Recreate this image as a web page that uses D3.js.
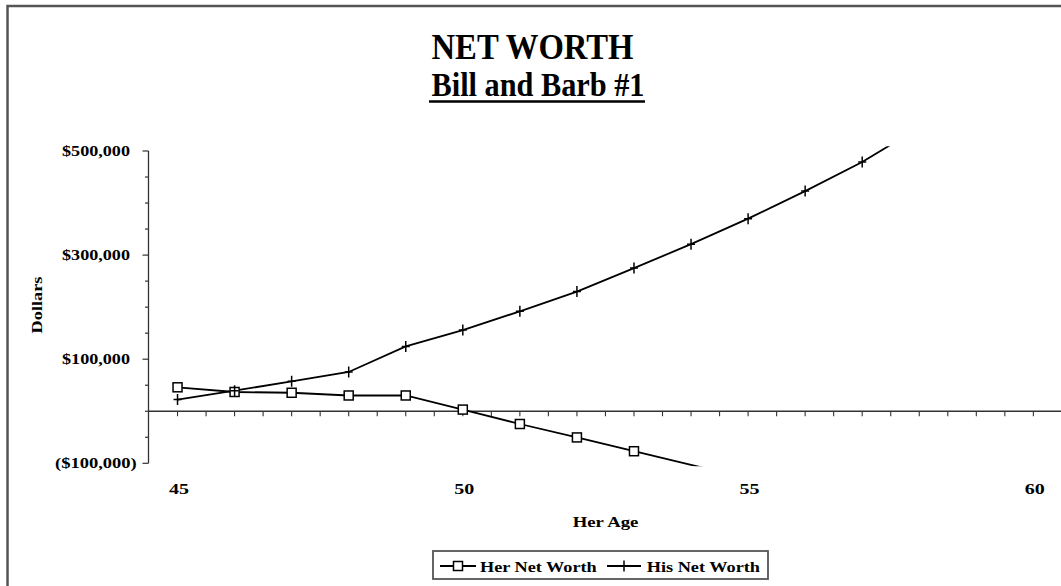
<!DOCTYPE html>
<html><head><meta charset="utf-8">
<script src="https://cdn.jsdelivr.net/npm/d3@7"></script>
<style>
html,body{margin:0;padding:0;background:#fff;}
svg text{font-family:"Liberation Serif","Times New Roman",serif;font-weight:bold;fill:#000;}
</style></head>
<body>
<script>
// ---- data ----
const ages = [45, 46, 47, 48, 49, 50, 51, 52, 53, 54, 55, 56, 57, 58];
const herNetWorth = [46000, 37000, 35500, 30300, 30300, 3200, -24500, -50300, -76800, -103000, -129000];
const hisNetWorth = [22400, 39600, 57500, 75500, 124500, 156000, 192000, 230000, 275000, 321000, 370000, 423000, 479000, 545000];
const yTickValues = [-100000, 100000, 300000, 500000];
const xTickValues = [45, 50, 55, 60];
const seriesNames = ["Her Net Worth", "His Net Worth"];
const titleText = "NET WORTH";
const subtitleText = "Bill and Barb #1";
const xAxisTitle = "Her Age";
const yAxisTitle = "Dollars";

const W = 1061, H = 586;
const svg = d3.select("body").append("svg").attr("width", W).attr("height", H);

// frame
svg.append("rect").attr("x", 7.5).attr("y", 6).attr("width", W + 20).attr("height", H + 20)
  .attr("fill", "none").attr("stroke", "#555").attr("stroke-width", 2.5);

const x = d3.scaleLinear().domain([44.5, 60.5]).range([149, 1061.9]);
const y = d3.scaleLinear().domain([-100000, 500000]).range([463.3, 151]);

// clip of plot area
svg.append("clipPath").attr("id", "plotclip").append("rect")
  .attr("x", x(44.5)).attr("y", y(509000))
  .attr("width", x(60.5) - x(44.5)).attr("height", y(-105500) - y(509000));

// title
svg.append("text").attr("x", 532.5).attr("y", 59.3).attr("text-anchor", "middle")
  .attr("font-size", 36).attr("textLength", 202).attr("lengthAdjust", "spacingAndGlyphs").text(titleText);
svg.append("text").attr("x", 538).attr("y", 96).attr("text-anchor", "middle")
  .attr("font-size", 34).attr("textLength", 213).attr("lengthAdjust", "spacingAndGlyphs").text(subtitleText);
svg.append("line").attr("x1", 429).attr("x2", 645).attr("y1", 101.5).attr("y2", 101.5)
  .attr("stroke", "#000").attr("stroke-width", 2.5);

// y axis
const fmt = v => v < 0 ? "($" + d3.format(",")(-v) + ")" : "$" + d3.format(",")(v);
svg.append("line").attr("x1", 148.5).attr("x2", 148.5).attr("y1", y(500000)).attr("y2", y(-100000))
  .attr("stroke", "#333").attr("stroke-width", 1.3);
const yMinor = d3.range(-100000, 500001, 50000);
svg.selectAll(".ytick").data(yMinor).enter().append("line")
  .attr("x1", d => yTickValues.includes(d) ? 142.5 : 145).attr("x2", 148.5)
  .attr("y1", d => y(d)).attr("y2", d => y(d)).attr("stroke", "#333").attr("stroke-width", 1.2);
svg.selectAll(".ylab").data(yTickValues).enter().append("text")
  .attr("x", d => d < 0 ? 136.7 : 130).attr("y", d => y(d) + 5)
  .attr("text-anchor", "end").attr("font-size", 14)
  .attr("textLength", d => d < 0 ? 81.7 : 68).attr("lengthAdjust", "spacingAndGlyphs")
  .text(fmt);
svg.append("text").attr("transform", "translate(42,305) rotate(-90)").attr("text-anchor", "middle")
  .attr("font-size", 14).attr("textLength", 57).attr("lengthAdjust", "spacingAndGlyphs").text(yAxisTitle);

// x axis at zero
svg.append("line").attr("x1", x(44.5)).attr("x2", x(60.5)).attr("y1", y(0)).attr("y2", y(0))
  .attr("stroke", "#333").attr("stroke-width", 1.3);
const xMinor = d3.range(45, 60.51, 0.5);
svg.selectAll(".xtick").data(xMinor).enter().append("line")
  .attr("x1", d => x(d)).attr("x2", d => x(d)).attr("y1", y(0)).attr("y2", y(0) + 5)
  .attr("stroke", "#333").attr("stroke-width", 1.1);
svg.selectAll(".xlab").data(xTickValues).enter().append("text")
  .attr("x", d => x(d) + 1.5).attr("y", 494).attr("text-anchor", "middle")
  .attr("font-size", 15).attr("textLength", 20).attr("lengthAdjust", "spacingAndGlyphs").text(d => d);
svg.append("text").attr("x", 605.5).attr("y", 526.7).attr("text-anchor", "middle")
  .attr("font-size", 15).attr("textLength", 65.7).attr("lengthAdjust", "spacingAndGlyphs").text(xAxisTitle);

// series
const herData = herNetWorth.map((v, i) => ({a: ages[i], v}));
const hisData = hisNetWorth.map((v, i) => ({a: ages[i], v}));
const line = d3.line().x(d => x(d.a)).y(d => y(d.v));
const plot = svg.append("g").attr("clip-path", "url(#plotclip)");
plot.append("path").datum(herData).attr("d", line).attr("fill", "none").attr("stroke", "#000").attr("stroke-width", 1.8);
plot.append("path").datum(hisData).attr("d", line).attr("fill", "none").attr("stroke", "#000").attr("stroke-width", 1.8);

function square(g, cx, cy) {
  g.append("rect").attr("x", cx - 4.5).attr("y", cy - 4.5).attr("width", 9).attr("height", 9)
    .attr("fill", "#fff").attr("stroke", "#000").attr("stroke-width", 1.5);
}
function plus(g, cx, cy) {
  g.append("line").attr("x1", cx).attr("x2", cx).attr("y1", cy - 5.5).attr("y2", cy + 5.5)
    .attr("stroke", "#000").attr("stroke-width", 1.5);
  g.append("line").attr("x1", cx - 4).attr("x2", cx + 4).attr("y1", cy).attr("y2", cy)
    .attr("stroke", "#000").attr("stroke-width", 1.5);
}
herData.forEach(d => { if (d.v >= -100000) square(plot, x(d.a), y(d.v)); });
hisData.forEach(d => { if (d.v <= 500000) plus(plot, x(d.a), y(d.v)); });

// legend
const lg = svg.append("g");
lg.append("rect").attr("x", 433).attr("y", 551).attr("width", 335).attr("height", 28)
  .attr("fill", "#fff").attr("stroke", "#555").attr("stroke-width", 1.8);
lg.append("line").attr("x1", 440).attr("x2", 476).attr("y1", 566).attr("y2", 566).attr("stroke", "#000").attr("stroke-width", 1.8);
square(lg, 458, 566);
lg.append("text").attr("x", 480).attr("y", 571.7).attr("font-size", 15)
  .attr("textLength", 116.7).attr("lengthAdjust", "spacingAndGlyphs").text(seriesNames[0]);
lg.append("line").attr("x1", 607).attr("x2", 641).attr("y1", 566).attr("y2", 566).attr("stroke", "#000").attr("stroke-width", 1.8);
plus(lg, 624, 566);
lg.append("text").attr("x", 646.7).attr("y", 571.7).attr("font-size", 15)
  .attr("textLength", 113.3).attr("lengthAdjust", "spacingAndGlyphs").text(seriesNames[1]);
</script>
</body></html>
